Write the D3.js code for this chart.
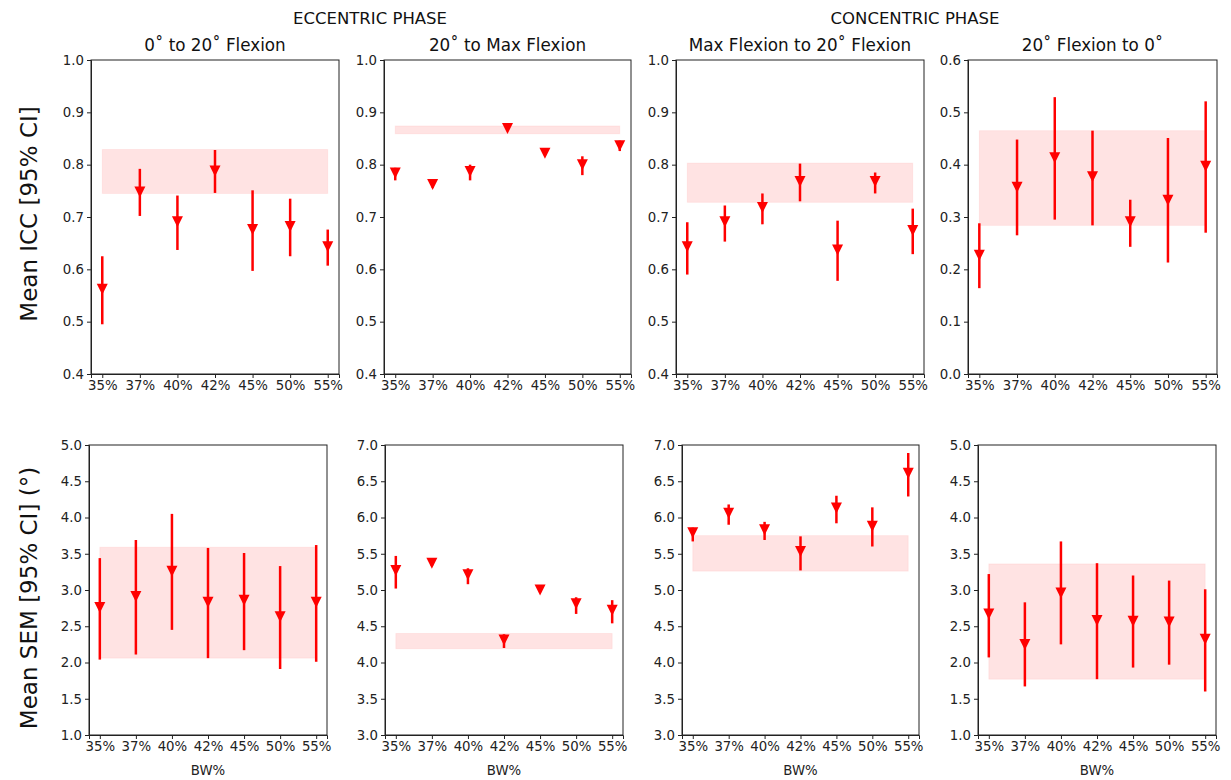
<!DOCTYPE html>
<html>
<head>
<meta charset="utf-8">
<script src="https://cdn.jsdelivr.net/npm/d3@7"></script>
<style>
  body { margin: 0; background: #fff; }
  svg text { font-family: "DejaVu Sans", sans-serif; }
  .tick text { font-size: 13.3px; fill: #222; }
  .tick line, .domain { stroke: #222; }
</style>
</head>
<body>
<svg width="1231" height="780"></svg>
<script>
const categories = ["35%", "37%", "40%", "42%", "45%", "50%", "55%"];
const phaseTitles = ["ECCENTRIC PHASE", "CONCENTRIC PHASE"];
const panelTitles = ["0˚ to 20˚ Flexion", "20˚ to Max Flexion", "Max Flexion to 20˚ Flexion", "20˚ Flexion to 0˚"];
const rowLabels = ["Mean ICC [95% CI]", "Mean SEM [95% CI] (°)"];
const xLabel = "BW%";

// ICC, top row
const icc1Mean = [0.562, 0.748, 0.691, 0.788, 0.676, 0.682, 0.643];
const icc1Low = [0.495, 0.702, 0.637, 0.746, 0.597, 0.625, 0.607];
const icc1High = [0.625, 0.792, 0.741, 0.828, 0.751, 0.735, 0.676];
const icc1Band = [0.745, 0.829];

const icc2Mean = [0.784, 0.762, 0.787, 0.869, 0.822, 0.800, 0.836];
const icc2Low = [0.770, 0.756, 0.770, 0.864, 0.818, 0.780, 0.826];
const icc2High = [0.794, 0.767, 0.800, 0.872, 0.826, 0.816, 0.846];
const icc2Band = [0.859, 0.874];

const icc3Mean = [0.643, 0.691, 0.718, 0.768, 0.637, 0.768, 0.674];
const icc3Low = [0.590, 0.653, 0.686, 0.730, 0.578, 0.745, 0.629];
const icc3High = [0.690, 0.722, 0.745, 0.802, 0.693, 0.785, 0.716];
const icc3Band = [0.728, 0.803];

const icc4Mean = [0.227, 0.357, 0.413, 0.377, 0.291, 0.332, 0.397];
const icc4Low = [0.164, 0.265, 0.295, 0.284, 0.243, 0.213, 0.270];
const icc4High = [0.288, 0.448, 0.529, 0.465, 0.333, 0.451, 0.521];
const icc4Band = [0.284, 0.465];

// SEM, bottom row
const sem1Mean = [2.76, 2.91, 3.26, 2.83, 2.86, 2.63, 2.83];
const sem1Low = [2.04, 2.11, 2.45, 2.06, 2.17, 1.91, 2.01];
const sem1High = [3.44, 3.69, 4.05, 3.58, 3.51, 3.33, 3.62];
const sem1Band = [2.06, 3.59];

const sem2Mean = [5.27, 5.37, 5.21, 4.31, 5.00, 4.81, 4.72];
const sem2Low = [5.02, 5.33, 5.08, 4.20, 4.97, 4.67, 4.54];
const sem2High = [5.47, 5.40, 5.30, 4.39, 5.03, 4.90, 4.86];
const sem2Band = [4.19, 4.40];

const sem3Mean = [5.79, 6.06, 5.83, 5.53, 6.13, 5.88, 6.61];
const sem3Low = [5.67, 5.90, 5.69, 5.27, 5.92, 5.60, 6.29];
const sem3High = [5.86, 6.18, 5.94, 5.74, 6.30, 6.14, 6.89];
const sem3Band = [5.26, 5.75];

const sem4Mean = [2.67, 2.25, 2.96, 2.58, 2.57, 2.56, 2.32];
const sem4Low = [2.07, 1.67, 2.25, 1.77, 1.93, 1.97, 1.60];
const sem4High = [3.22, 2.83, 3.67, 3.37, 3.20, 3.13, 3.01];
const sem4Band = [1.77, 3.36];

const RED = "#ff0000";

const panels = [
  { mean: icc1Mean, low: icc1Low, high: icc1High, band: icc1Band, domain: [0.4, 1.0], step: 0.1, box: [91, 339, 60, 374], title: panelTitles[0] },
  { mean: icc2Mean, low: icc2Low, high: icc2High, band: icc2Band, domain: [0.4, 1.0], step: 0.1, box: [384, 631, 60, 374], title: panelTitles[1] },
  { mean: icc3Mean, low: icc3Low, high: icc3High, band: icc3Band, domain: [0.4, 1.0], step: 0.1, box: [676, 924, 60, 374], title: panelTitles[2] },
  { mean: icc4Mean, low: icc4Low, high: icc4High, band: icc4Band, domain: [0.0, 0.6], step: 0.1, box: [968, 1217, 60, 374], title: panelTitles[3] },
  { mean: sem1Mean, low: sem1Low, high: sem1High, band: sem1Band, domain: [1, 5], step: 0.5, box: [89, 327, 445, 735], xlabel: true },
  { mean: sem2Mean, low: sem2Low, high: sem2High, band: sem2Band, domain: [3, 7], step: 0.5, box: [385, 623, 445, 735], xlabel: true },
  { mean: sem3Mean, low: sem3Low, high: sem3High, band: sem3Band, domain: [3, 7], step: 0.5, box: [682, 919, 445, 735], xlabel: true },
  { mean: sem4Mean, low: sem4Low, high: sem4High, band: sem4Band, domain: [1, 5], step: 0.5, box: [978, 1216, 445, 735], xlabel: true },
];

// matplotlib-like 'v' marker
const triangleDown = {
  draw(context, size) {
    const r = Math.sqrt(size) / 2;
    context.moveTo(-r, -r);
    context.lineTo(r, -r);
    context.lineTo(0, r);
    context.closePath();
  },
};

const svg = d3.select("svg");

panels.forEach((p) => {
  const [left, right, top, bottom] = p.box;
  const x = d3.scaleLinear().domain([-0.3, categories.length - 0.7]).range([left, right]);
  const y = d3.scaleLinear().domain(p.domain).range([bottom, top]);
  const g = svg.append("g");

  // shaded band
  g.append("rect")
    .attr("x", x(0))
    .attr("width", x(categories.length - 1) - x(0))
    .attr("y", y(p.band[1]))
    .attr("height", y(p.band[0]) - y(p.band[1]))
    .attr("fill", RED)
    .attr("fill-opacity", 0.11)
    .attr("stroke", RED)
    .attr("stroke-opacity", 0.06);

  const pts = categories.map((c, i) => ({ i, m: p.mean[i], lo: p.low[i], hi: p.high[i] }));

  // error bars
  g.selectAll("line.err")
    .data(pts)
    .enter()
    .append("line")
    .attr("class", "err")
    .attr("x1", (d) => x(d.i))
    .attr("x2", (d) => x(d.i))
    .attr("y1", (d) => y(d.lo))
    .attr("y2", (d) => y(d.hi))
    .attr("stroke", RED)
    .attr("stroke-width", 2.5);

  // markers
  g.selectAll("path.mk")
    .data(pts)
    .enter()
    .append("path")
    .attr("class", "mk")
    .attr("d", d3.symbol(triangleDown, 121))
    .attr("transform", (d) => `translate(${x(d.i)},${y(d.m)})`)
    .attr("fill", RED);

  // axes
  const nTicks = Math.round((p.domain[1] - p.domain[0]) / p.step);
  const yTicks = d3.range(nTicks + 1).map((k) => p.domain[0] + k * p.step);
  g.append("g")
    .attr("transform", `translate(${left},0)`)
    .call(d3.axisLeft(y).tickValues(yTicks).tickFormat(d3.format(".1f")).tickSizeOuter(0).tickSize(4).tickPadding(3));
  g.append("g")
    .attr("transform", `translate(0,${bottom})`)
    .call(d3.axisBottom(x).tickValues(d3.range(categories.length)).tickFormat((i) => categories[i]).tickSizeOuter(0).tickSize(4).tickPadding(3));

  // frame
  g.append("rect")
    .attr("x", left)
    .attr("y", top)
    .attr("width", right - left)
    .attr("height", bottom - top)
    .attr("fill", "none")
    .attr("stroke", "#222")
    .attr("stroke-width", 1);

  if (p.title) {
    g.append("text")
      .attr("x", (left + right) / 2)
      .attr("y", top - 9)
      .attr("text-anchor", "middle")
      .attr("font-size", 16.8)
      .attr("fill", "#111")
      .text(p.title);
  }
  if (p.xlabel) {
    g.append("text")
      .attr("x", (left + right) / 2)
      .attr("y", bottom + 40)
      .attr("text-anchor", "middle")
      .attr("font-size", 13.3)
      .attr("fill", "#222")
      .text(xLabel);
  }
});

// phase headings
svg.selectAll("text.phase")
  .data(phaseTitles)
  .enter()
  .append("text")
  .attr("class", "phase")
  .attr("x", (d, i) => (i === 0 ? 370 : 915))
  .attr("y", 24)
  .attr("text-anchor", "middle")
  .attr("font-size", 16.5)
  .attr("fill", "#111")
  .text((d) => d);

// row labels
svg.selectAll("text.rowlabel")
  .data(rowLabels)
  .enter()
  .append("text")
  .attr("class", "rowlabel")
  .attr("transform", (d, i) => `translate(37,${i === 0 ? 214 : 598}) rotate(-90)`)
  .attr("text-anchor", "middle")
  .attr("font-size", 23)
  .attr("fill", "#111")
  .text((d) => d);
</script>
</body>
</html>
